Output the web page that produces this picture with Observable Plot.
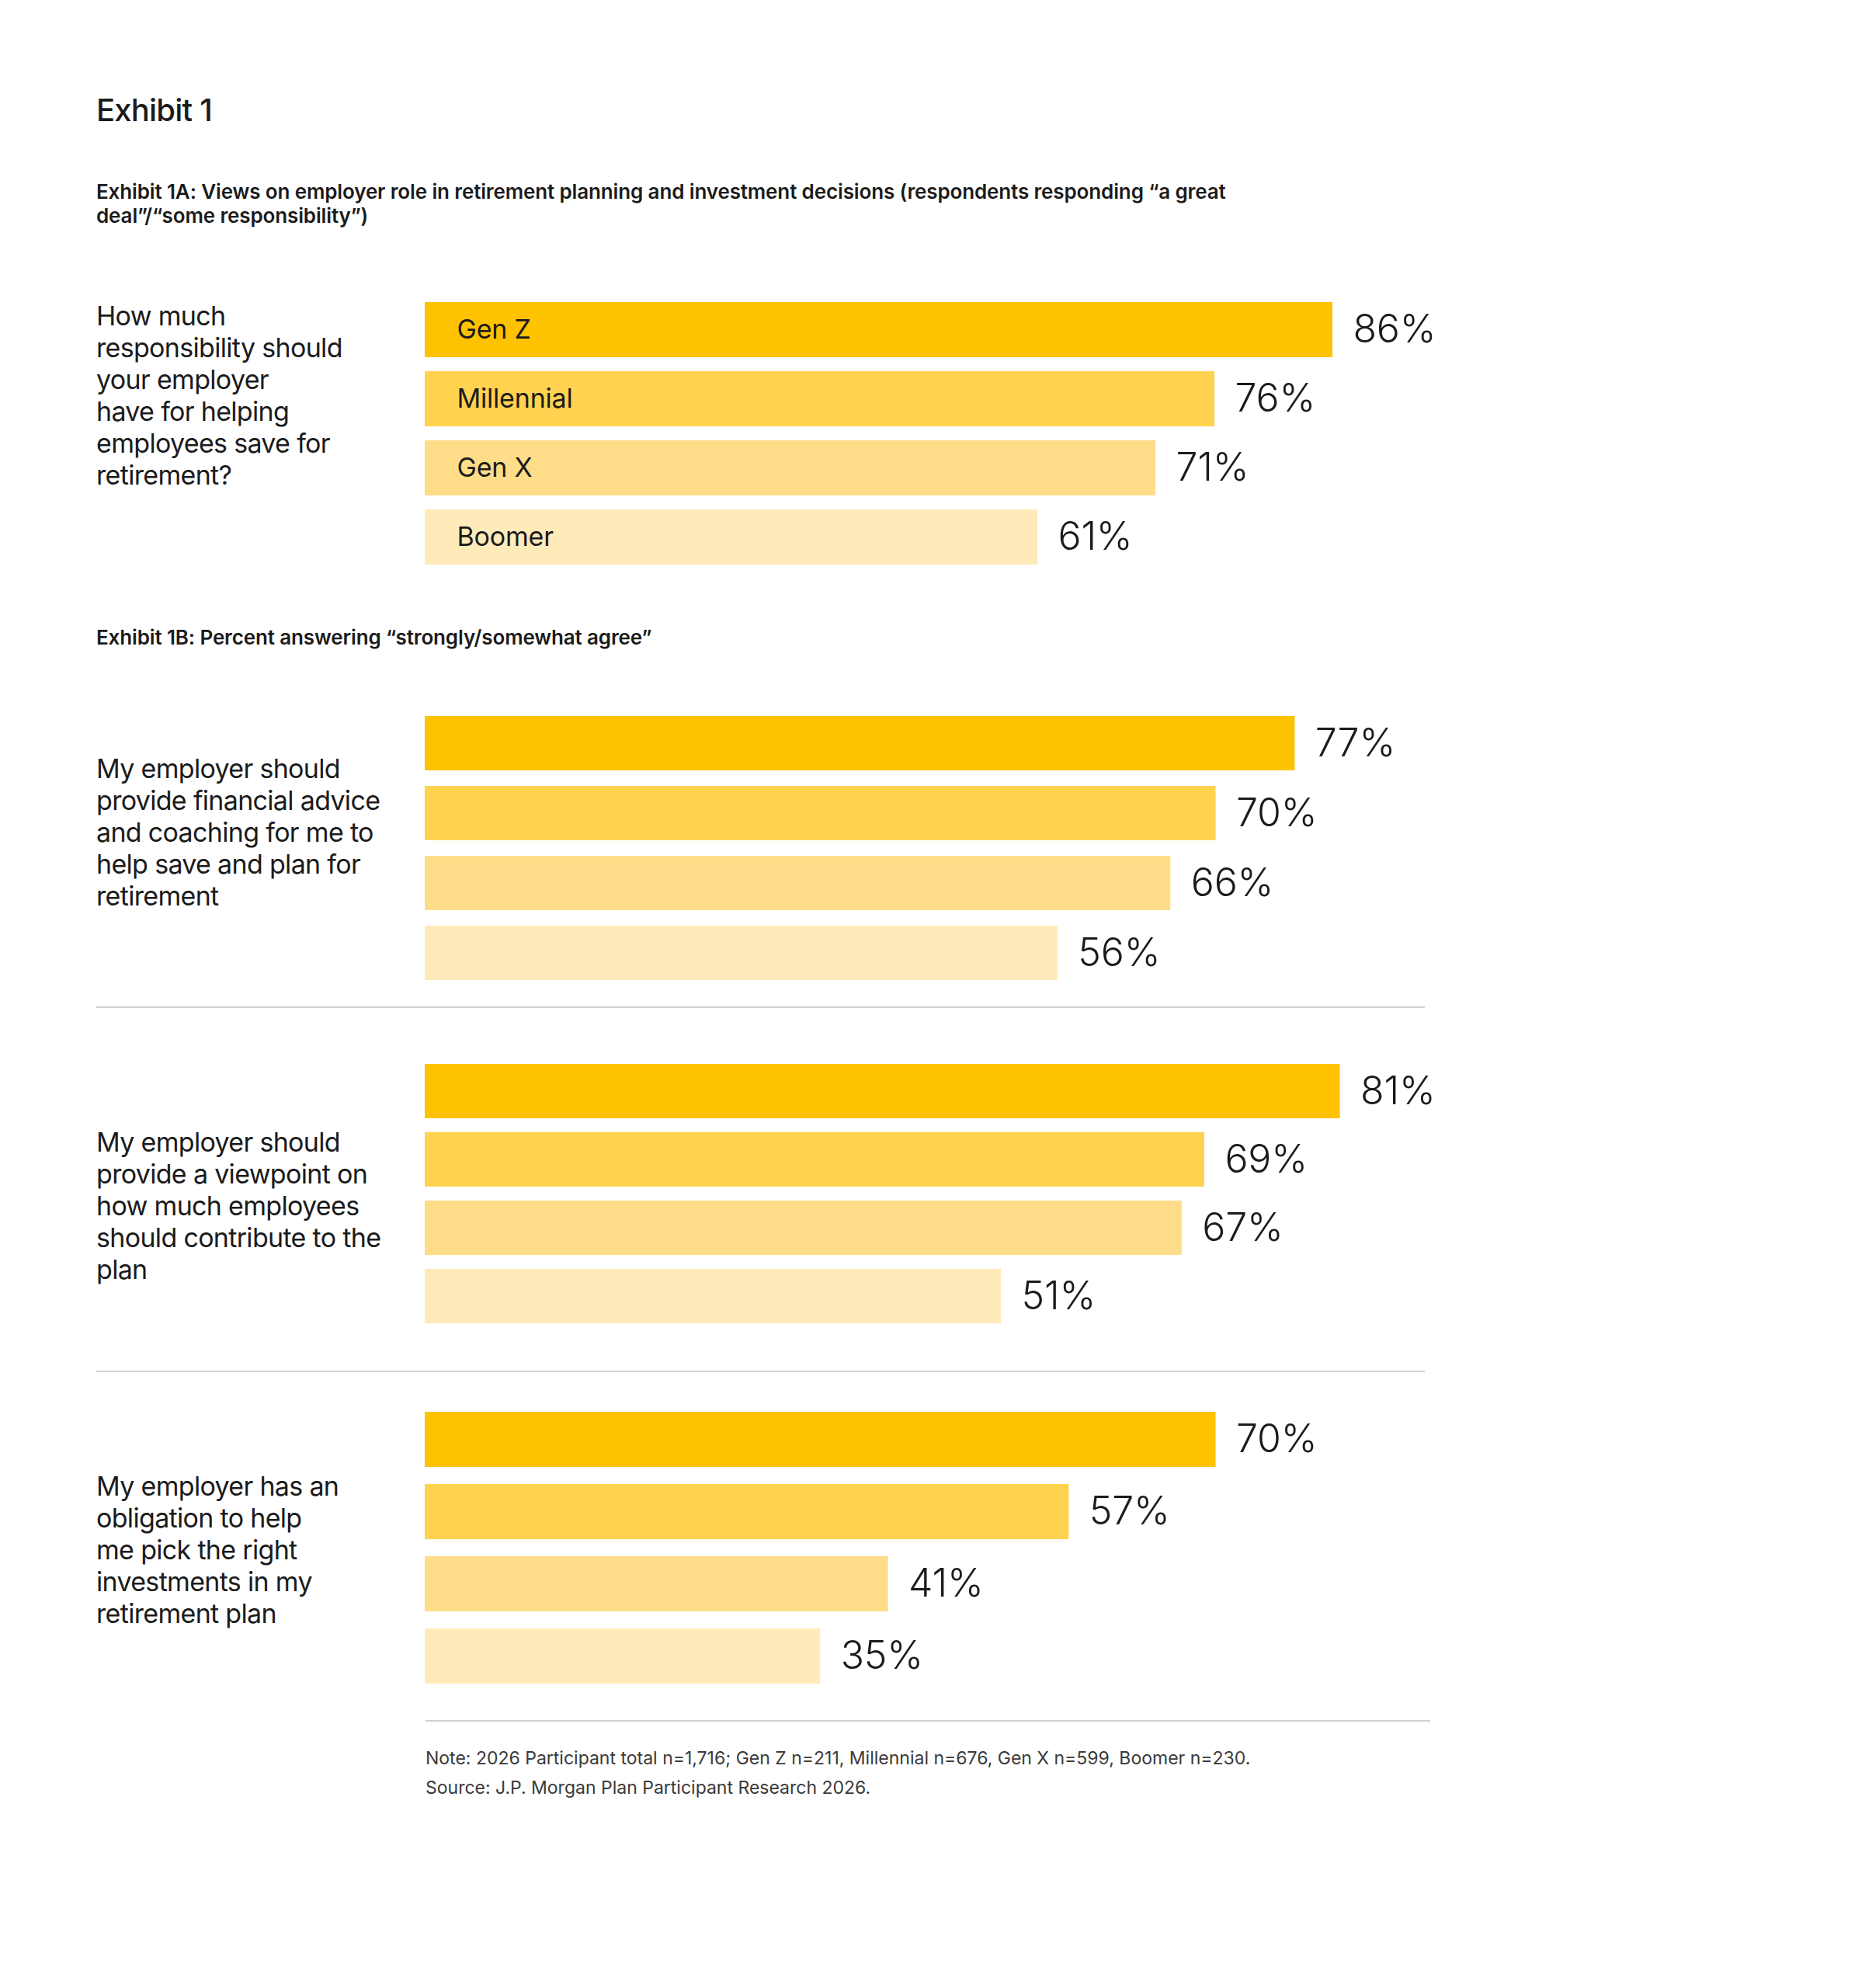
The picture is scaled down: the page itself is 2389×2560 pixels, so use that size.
<!DOCTYPE html>
<html><head><meta charset="utf-8">
<script src="https://cdn.jsdelivr.net/npm/d3@7"></script>
<script src="https://cdn.jsdelivr.net/npm/@observablehq/plot@0.6"></script>
<style>
body{margin:0;background:#fff;}
#page{position:relative;width:2389px;height:2560px;font-family:Inter,"Noto Sans",sans-serif;color:#1b1b1b;overflow:hidden;}
.abs{position:absolute;}
.title{left:124px;top:117px;font-size:40px;font-weight:500;letter-spacing:-0.02em;}
.sub{left:124px;font-size:26px;font-weight:600;line-height:31px;letter-spacing:-0.005em;}
.q{left:124px;font-size:34px;line-height:41px;white-space:pre-line;letter-spacing:-0.02em;}
.sep{height:2px;background:#d0d0d0;}
.note{left:548px;top:2245px;font-size:23px;line-height:38px;color:#3a3a3a;}
</style></head>
<body><div id="page"></div>
<script>
// ---- data ----
const generations = ["Gen Z", "Millennial", "Gen X", "Boomer"];
const genColors = ["#FFC200", "#FFD24F", "#FFDD88", "#FFEAB9"];
const question1A = "How much\nresponsibility should\nyour employer\nhave for helping\nemployees save for\nretirement?";
const responsibilityValues = [86, 76, 71, 61];
const questions1B = [
  "My employer should\nprovide financial advice\nand coaching for me to\nhelp save and plan for\nretirement",
  "My employer should\nprovide a viewpoint on\nhow much employees\nshould contribute to the\nplan",
  "My employer has an\nobligation to help\nme pick the right\ninvestments in my\nretirement plan"
];
const adviceValues = [77, 70, 66, 56];
const viewpointValues = [81, 69, 67, 51];
const investmentValues = [70, 57, 41, 35];
const titleText = "Exhibit 1";
const subtitle1A = "Exhibit 1A: Views on employer role in retirement planning and investment decisions (respondents responding “a great<br>deal”/“some responsibility”)";
const subtitle1B = "Exhibit 1B: Percent answering “strongly/somewhat agree”";
const noteText = "Note: 2026 Participant total n=1,716; Gen Z n=211, Millennial n=676, Gen X n=599, Boomer n=230.";
const sourceText = "Source: J.P. Morgan Plan Participant Research 2026.";

const page = document.getElementById("page");
function div(cls, html, style){
  const d = document.createElement("div");
  d.className = "abs " + cls;
  d.innerHTML = html;
  Object.assign(d.style, style || {});
  page.appendChild(d);
  return d;
}
div("title", titleText);
div("sub", subtitle1A, {top:"231px"});
div("sub", subtitle1B, {top:"805px"});

function panel(values, o){
  const data = generations.map((g, i) => ({gen: g, value: values[i]}));
  const marks = [
    Plot.barX(data, {x: "value", y: "gen", fill: "gen", clip: true}),
    Plot.text(data, {x: "value", y: "gen", text: d => d.value + "%", textAnchor: "start", dx: 26, fontSize: 50, fontWeight: 300, fill: "#1b1b1b"})
  ];
  if (o.cats) marks.push(Plot.text(data, {y: "gen", text: "gen", frameAnchor: "left", dx: 41, textAnchor: "start", fontSize: 34, fill: "#1b1b1b"}));
  const svg = Plot.plot({
    width: 2389, height: o.height,
    marginTop: 0, marginBottom: 0, marginLeft: 547, marginRight: 0,
    x: {domain: [0, 100], range: o.xRange, axis: null},
    y: {domain: generations, padding: o.padding, axis: null},
    color: {domain: generations, range: genColors},
    style: {fontFamily: "Inter, 'Noto Sans', sans-serif", background: "transparent", overflow: "visible", letterSpacing: "-0.02em"},
    marks
  });
  svg.style.position = "absolute";
  svg.style.left = "0px";
  svg.style.top = o.top + "px";
  page.appendChild(svg);
}

panel(responsibilityValues, {top: 371, height: 374, padding: 0.2, xRange: [408.8, 1928.8], cats: true});
div("q", question1A, {top: "386px"});

const x1B = [547, 2002];
panel(adviceValues, {top: 900, height: 384, padding: 0.22, xRange: x1B});
div("q", questions1B[0], {top: "969px"});
div("sep", "", {left: "124px", width: "1711px", top: "1296px"});

panel(viewpointValues, {top: 1352, height: 371, padding: 0.2, xRange: x1B});
div("q", questions1B[1], {top: "1450px"});
div("sep", "", {left: "124px", width: "1711px", top: "1765px"});

panel(investmentValues, {top: 1796, height: 395, padding: 0.234, xRange: x1B});
div("q", questions1B[2], {top: "1893px"});
div("sep", "", {left: "548px", width: "1294px", top: "2215px"});

div("note", noteText + "<br>" + sourceText);
</script>
</body></html>
